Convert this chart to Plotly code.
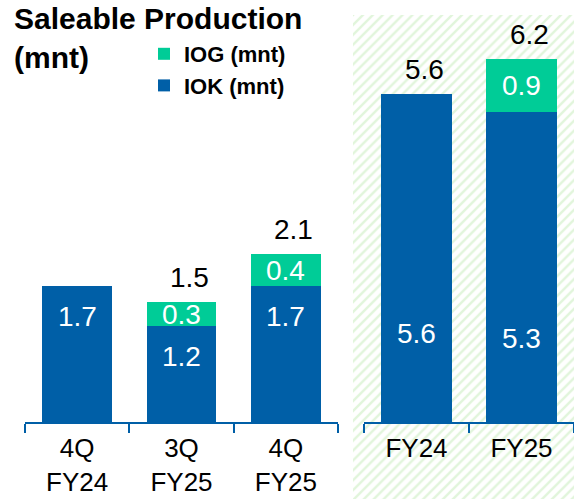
import plotly.graph_objects as go

# Saleable production, million tonnes
quarters = ["4Q<br>FY24", "3Q<br>FY25", "4Q<br>FY25"]
quarter_iok = [1.7, 1.2, 1.7]
quarter_iog = [None, 0.3, 0.4]
quarter_total = [None, 1.5, 2.1]

years = ["FY24", "FY25"]
year_iok = [5.6, 5.3]
year_iog = [None, 0.9]
year_total = [5.6, 6.2]

BLUE = "#005FA7"
GREEN = "#00CC97"
HATCH = "#c4ebb8"
FONT = "Liberation Sans, Arial, sans-serif"

W, H = 574, 499
AXIS_Y = 422            # pixel row of the category axis line
Q_PX_PER_UNIT = 80.0    # vertical scale of the quarterly panel
Y_PX_PER_UNIT = 58.5    # vertical scale of the annual panel

y_dom0 = (H - AXIS_Y) / H

fig = go.Figure()

# hatched backdrop behind the annual panel
fig.add_trace(go.Bar(
    x=[0], y=[1], width=1, xaxis="x", yaxis="y",
    marker=dict(color="white", line_width=0,
                pattern=dict(shape="/", fgcolor=HATCH, bgcolor="white",
                             size=7, solidity=0.35)),
    showlegend=False, hoverinfo="skip",
))

# quarterly panel
fig.add_trace(go.Bar(x=quarters, y=quarter_iok, xaxis="x2", yaxis="y2",
                     marker=dict(color=BLUE, line_width=0),
                     name="<b>IOK (mnt)</b>", legendrank=2, showlegend=True))
fig.add_trace(go.Bar(x=quarters, y=quarter_iog, xaxis="x2", yaxis="y2",
                     marker=dict(color=GREEN, line_width=0),
                     name="<b>IOG (mnt)</b>", legendrank=1, showlegend=True))

# annual panel
fig.add_trace(go.Bar(x=years, y=year_iok, xaxis="x3", yaxis="y3",
                     marker=dict(color=BLUE, line_width=0), showlegend=False))
fig.add_trace(go.Bar(x=years, y=year_iog, xaxis="x3", yaxis="y3",
                     marker=dict(color=GREEN, line_width=0), showlegend=False))

annotations = []


def add_labels(xref, yref, iok, iog, total, iok_pos):
    for i, (a, g, t) in enumerate(zip(iok, iog, total)):
        annotations.append(dict(x=i, y=iok_pos(a), xref=xref, yref=yref,
                                text=f"{a:.1f}", showarrow=False,
                                yanchor="middle",
                                font=dict(family=FONT, size=28, color="white")))
        if g:
            annotations.append(dict(x=i, y=a + g / 2, xref=xref, yref=yref,
                                    text=f"{g:.1f}", showarrow=False,
                                    yanchor="middle",
                                    font=dict(family=FONT, size=28, color="white")))
        if t:
            annotations.append(dict(x=i, y=t, xref=xref, yref=yref,
                                    text=f"{t:.1f}", showarrow=False,
                                    yanchor="middle", yshift=25, xshift=8,
                                    font=dict(family=FONT, size=28, color="black")))


add_labels("x2", "y2", quarter_iok, quarter_iog, quarter_total,
           lambda v: v - 30 / Q_PX_PER_UNIT)
add_labels("x3", "y3", year_iok, year_iog, year_total,
           lambda v: v * 0.27)

annotations.append(dict(
    x=12 / W, y=1, xref="paper", yref="paper", xanchor="left", yanchor="top",
    align="left", showarrow=False,
    text="<b>Saleable Production<br>(mnt)</b>",
    font=dict(family=FONT, size=30, color="black"),
))

cat_axis = dict(
    type="category", showline=True, linecolor=BLUE, linewidth=2,
    ticks="outside", tickson="boundaries", ticklen=9, tickwidth=2,
    tickcolor=BLUE, showgrid=False, zeroline=False, fixedrange=True,
    automargin=False, ticklabelstandoff=2,
    tickfont=dict(family=FONT, size=26, color="black"),
)

fig.update_layout(
    width=W, height=H, autosize=False,
    margin=dict(l=0, r=0, t=0, b=0, pad=0),
    paper_bgcolor="white", plot_bgcolor="rgba(0,0,0,0)",
    barmode="stack", bargap=0.33,
    xaxis=dict(domain=[353 / W, 1], range=[-0.5, 0.5], visible=False,
               anchor="y", automargin=False),
    yaxis=dict(domain=[0, (H - 15) / H], range=[0, 1], visible=False,
               anchor="x", automargin=False),
    xaxis2=dict(domain=[25 / W, 338 / W], range=[-0.5, 2.5], anchor="y2",
                **cat_axis),
    yaxis2=dict(domain=[y_dom0, 1], range=[0, AXIS_Y / Q_PX_PER_UNIT],
                visible=False, anchor="x2", automargin=False),
    xaxis3=dict(domain=[364 / W, 1], range=[-0.5, 1.5], anchor="y3",
                **cat_axis),
    yaxis3=dict(domain=[y_dom0, 1], range=[0, AXIS_Y / Y_PX_PER_UNIT],
                visible=False, anchor="x3", automargin=False),
    legend=dict(x=144 / W, y=1 - 33 / H, xanchor="left", yanchor="top",
                traceorder="normal",
                bgcolor="rgba(0,0,0,0)", borderwidth=0, itemwidth=30,
                tracegroupgap=0,
                font=dict(family=FONT, size=22, color="black")),
    annotations=annotations,
    showlegend=True,
)

fig.write_html("out.html")
